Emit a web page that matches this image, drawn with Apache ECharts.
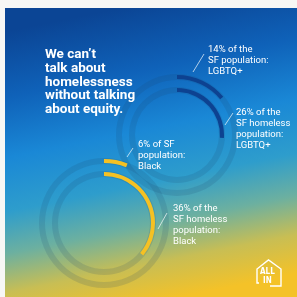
<!DOCTYPE html>
<html>
<head>
<meta charset="utf-8">
<script src="https://cdn.jsdelivr.net/npm/echarts@6/dist/echarts.min.js"></script>
<style>
html, body { margin: 0; padding: 0; background: #f7f7f5; }
#chart { width: 297px; height: 297px; }
</style>
</head>
<body>
<div id="chart"></div>
<script>
// shares shown as rings (percent)
let lgbtqPopulation = 14;
let lgbtqHomeless = 26;
let blackPopulation = 6;
let blackHomeless = 36;

let titleLines = ["We can\u2019t", "talk about", "homelessness", "without talking", "about equity."];
let lgbtqPopLabel = ["14% of the", "SF population:", "LGBTQ+"];
let lgbtqHomelessLabel = ["26% of the", "SF homeless", "population:", "LGBTQ+"];
let blackPopLabel = ["6% of SF", "population:", "Black"];
let blackHomelessLabel = ["36% of the", "SF homeless", "population:", "Black"];

let chart = echarts.init(document.getElementById("chart"));

let blue = "#0d4291";
let yellow = "#f5c123";
let track = "rgba(30,70,110,0.15)";

function arc(name, value, center, radius, width, color) {
	return {
		name: name,
		type: "pie",
		center: center,
		radius: [radius - width / 2, radius + width / 2],
		startAngle: 90,
		clockwise: true,
		silent: true,
		label: {show: false},
		labelLine: {show: false},
		emphasis: {disabled: true},
		z: 3,
		data: [
			{value: value, itemStyle: {color: color}},
			{value: 100 - value, itemStyle: {color: "transparent"}}
		]
	};
}

function ring(center, radius, width) {
	return {
		type: "pie",
		center: center,
		radius: [radius - width / 2, radius + width / 2],
		silent: true,
		label: {show: false},
		labelLine: {show: false},
		z: 2,
		data: [{value: 1, itemStyle: {color: track}}]
	};
}

function textBlock(lines, x, y, size, lineHeight, weight) {
	return lines.map((line, i) => ({
		type: "text",
		left: x,
		top: y + i * lineHeight,
		z: 10,
		style: {
			text: line,
			fill: "#ffffff",
			font: `${weight} ${size}px Roboto, sans-serif`
		}
	}));
}

function slash(x1, y1, x2, y2) {
	return {
		type: "line",
		z: 10,
		shape: {x1, y1, x2, y2},
		style: {stroke: "rgba(255,255,255,0.85)", lineWidth: 0.8}
	};
}

let upper = [177, 135];
let lower = [104, 223];

let graphic = [
	{
		type: "rect",
		z: 0,
		shape: {x: 5, y: 8, width: 292, height: 289},
		style: {
			fill: new echarts.graphic.LinearGradient(0.4, 0, 0.6, 1, [
				{offset: 0, color: "#0b4595"},
				{offset: 0.22, color: "#0f62b9"},
				{offset: 0.42, color: "#1a88d6"},
				{offset: 0.6, color: "#2e9dcc"},
				{offset: 0.74, color: "#6cb0a0"},
				{offset: 0.87, color: "#c8be54"},
				{offset: 1, color: "#f4c228"}
			])
		}
	},
	...textBlock(titleLines, 45, 48, 13.5, 13.6, "bold"),
	...textBlock(lgbtqPopLabel, 208, 45, 9.5, 11, "normal"),
	...textBlock(lgbtqHomelessLabel, 236, 108, 9.5, 11, "normal"),
	...textBlock(blackPopLabel, 138, 140, 9.5, 11, "normal"),
	...textBlock(blackHomelessLabel, 173, 204, 9.5, 11, "normal"),
	slash(193, 72, 204, 54),
	slash(225, 125, 233, 113),
	slash(127, 157, 133, 148),
	slash(158, 229, 167, 213),
	{
		type: "polyline",
		z: 10,
		shape: {points: [[259, 283], [257, 283], [257, 269], [268.5, 260], [281, 269], [281, 286], [270, 286]]},
		style: {stroke: "#ffffff", lineWidth: 1.4, fill: null}
	},
	{
		type: "text", left: 260, top: 268, z: 10,
		style: {text: "ALL", fill: "#ffffff", font: "bold 8px 'DejaVu Sans Condensed', sans-serif"}
	},
	{
		type: "text", left: 263, top: 277, z: 10,
		style: {text: "IN", fill: "#ffffff", font: "bold 8px 'DejaVu Sans Condensed', sans-serif"}
	}
];

chart.setOption({
	animation: false,
	graphic: graphic,
	series: [
		ring(upper, 58, 6),
		ring(upper, 45, 6),
		ring(lower, 62, 6),
		ring(lower, 49, 6),
		arc("LGBTQ+ population", lgbtqPopulation, upper, 58, 4, blue),
		arc("LGBTQ+ homeless", lgbtqHomeless, upper, 45, 4, blue),
		arc("Black population", blackPopulation, lower, 62, 4, yellow),
		arc("Black homeless", blackHomeless, lower, 49, 4, yellow)
	]
});
</script>
</body>
</html>
